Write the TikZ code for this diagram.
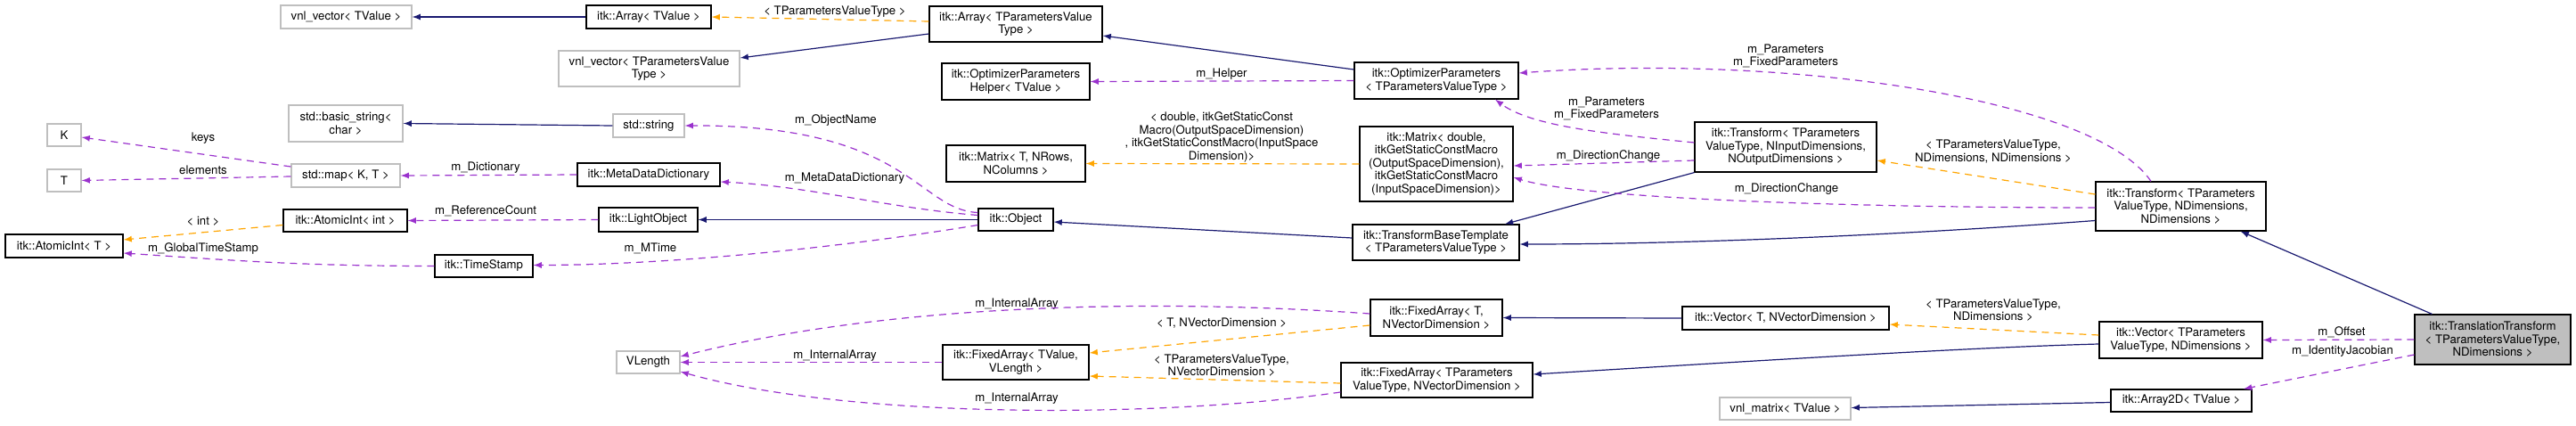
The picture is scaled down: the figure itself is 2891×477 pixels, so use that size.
\documentclass[tikz,border=0pt]{standalone}
\usepackage{fontspec}
\setmainfont{TeX Gyre Heros}
\usepackage{tikz}
\usetikzlibrary{calc,arrows}
\definecolor{navy}{RGB}{25,25,112}
\definecolor{orchid}{RGB}{154,50,205}
\definecolor{amber}{RGB}{255,165,0}
\definecolor{boxgray}{RGB}{191,191,191}
\newcommand{\dox}{\fontsize{6.6}{7.3}\selectfont}
\tikzset{
  cls/.style={draw=black,line width=0.6pt,inner sep=0pt,align=center,font=\dox,minimum height=13pt},
  ext/.style={cls,draw=boxgray},
  cur/.style={cls,fill=boxgray},
  lbl/.style={inner sep=0pt,align=center,font=\dox},
  inh/.style={navy,line width=0.6pt,-latex},
  use/.style={orchid,line width=0.6pt,dash pattern=on 4pt off 3pt,-latex},
  tpl/.style={amber,line width=0.6pt,dash pattern=on 4pt off 3pt,-latex}
}
\begin{document}
\begin{tikzpicture}[x=0.5pt,y=-0.5pt]
                      \useasboundingbox(0,0)rectangle(2891,477);
                      \node[ext,minimum width=73.5pt](vvTV)at(388.5,19){vnl\_vector< TValue >};
                      \node[cls,minimum width=70pt](arrTV)at(728,19){itk::Array< TValue >};
                      \node[ext,minimum width=101.5pt,minimum height=20pt](vvTP)at(728.5,77){vnl\_vector< TParametersValue\\Type >};
                      \node[cls,minimum width=97pt,minimum height=20pt](arrTP)at(1140,27){itk::Array< TParametersValue\\Type >};
                      \node[cls,minimum width=83pt,minimum height=20.5pt](opHelper)at(1140,91.5){itk::OptimizerParameters\\Helper< TValue >};
                      \node[cls,minimum width=92pt,minimum height=20.5pt](optParams)at(1612,90.5){itk::OptimizerParameters\\< TParametersValueType >};
                      \node[ext,minimum width=64pt,minimum height=20.5pt](basicStr)at(388,138.5){std::basic\_string<\\char >};
                      \node[ext,minimum width=40pt](stdStr)at(728,141){std::string};
                      \node[ext,minimum width=19pt,minimum height=12.5pt](K)at(72,151.5){K};
                      \node[ext,minimum width=19pt,minimum height=12.5pt](T)at(72,202.5){T};
                      \node[ext,minimum width=61pt](stdMap)at(388,197){std::map< K, T >};
                      \node[cls,minimum width=80pt](metaDict)at(728,196){itk::MetaDataDictionary};
                      \node[cls,minimum width=78pt,minimum height=20.5pt](matT)at(1140,183.5){itk::Matrix< T, NRows,\\NColumns >};
                      \node[cls,minimum width=86pt,minimum height=42pt](matD)at(1612,184){itk::Matrix< double,\\itkGetStaticConstMacro\\(OutputSpaceDimension),\\itkGetStaticConstMacro\\(InputSpaceDimension)>};
                      \node[cls,minimum width=42pt,minimum height=12.5pt](object)at(1140,246.5){itk::Object};
                      \node[cls,minimum width=93.5pt,minimum height=20pt](tbt)at(1611.5,272){itk::TransformBaseTemplate\\< TParametersValueType >};
                      \node[cls,minimum width=102pt,minimum height=28pt](trIn)at(2004,165){itk::Transform< TParameters\\ValueType, NInputDimensions,\\NOutputDimensions >};
                      \node[cls,minimum width=95.5pt,minimum height=27.5pt](trN)at(2447.5,231.5){itk::Transform< TParameters\\ValueType, NDimensions,\\NDimensions >};
                      \node[cur,minimum width=87.5pt,minimum height=28pt](tt)at(2797.5,381){itk::TranslationTransform\\< TParametersValueType,\\NDimensions >};
                      \node[cls,minimum width=91.5pt,minimum height=20.5pt](vecTP)at(2447.5,381.5){itk::Vector< TParameters\\ValueType, NDimensions >};
                      \node[cls,minimum width=79pt,minimum height=12.5pt](arr2D)at(2448,449.5){itk::Array2D< TValue >};
                      \node[ext,minimum width=73.5pt,minimum height=12.5pt](vnlMat)at(2003.5,458.5){vnl\_matrix< TValue >};
                      \node[cls,minimum width=116pt](vecT)at(2004,357){itk::Vector< T, NVectorDimension >};
                      \node[cls,minimum width=74pt,minimum height=20.5pt](faT)at(1612,356.5){itk::FixedArray< T,\\NVectorDimension >};
                      \node[cls,minimum width=107.5pt,minimum height=19.5pt](faTP)at(1612.5,426.5){itk::FixedArray< TParameters\\ValueType, NVectorDimension >};
                      \node[cls,minimum width=82pt,minimum height=19.5pt](faTV)at(1140,406.5){itk::FixedArray< TValue,\\VLength >};
                      \node[ext,minimum width=35.5pt,minimum height=12.5pt](vlen)at(727.5,406.5){VLength};
                      \node[cls,minimum width=69.5pt,minimum height=12.5pt](aiInt)at(387.5,247.5){itk::AtomicInt< int >};
                      \node[cls,minimum width=55.5pt,minimum height=13.5pt](light)at(727.5,246.5){itk::LightObject};
                      \node[cls,minimum width=66pt](aiT)at(72,276){itk::AtomicInt< T >};
                      \node[cls,minimum width=55pt,minimum height=12.5pt](ts)at(543,298.5){itk::TimeStamp};
                      \node[lbl](lArrTP)at(937,13){< TParametersValueType >};
                      \node[lbl](lHelper)at(1371,83){m\_Helper};
                      \node[lbl](lObjName)at(938,135){m\_ObjectName};
                      \node[lbl](lMDD)at(948,200){m\_MetaDataDictionary};
                      \node[lbl](lMatD)at(1371,154){< double, itkGetStaticConst\\Macro(OutputSpaceDimension)\\, itkGetStaticConstMacro(InputSpace\\Dimension)>};
                      \node[lbl](lKeys)at(228,155){keys};
                      \node[lbl](lElem)at(228,191){elements};
                      \node[lbl](lDict)at(545,188){m\_Dictionary};
                      \node[lbl](lRef)at(545,237){m\_ReferenceCount};
                      \node[lbl](lInt)at(228,248){< int >};
                      \node[lbl](lGTS)at(228,279){m\_GlobalTimeStamp};
                      \node[lbl](lMTime)at(730,279){m\_MTime};
                      \node[lbl](lIA1)at(1141,341){m\_InternalArray};
                      \node[lbl](lTNVD)at(1371,363){< T, NVectorDimension >};
                      \node[lbl](lIA2)at(937,399){m\_InternalArray};
                      \node[lbl](lTPNVD)at(1371,410){< TParametersValueType,\\NVectorDimension >};
                      \node[lbl](lIA3)at(1141,447){m\_InternalArray};
                      \node[lbl](lPar1)at(2004,63){m\_Parameters\\m\_FixedParameters};
                      \node[lbl](lPar2)at(1803,122){m\_Parameters\\m\_FixedParameters};
                      \node[lbl](lDir1)at(1805,175){m\_DirectionChange};
                      \node[lbl](lDir2)at(2005,212){m\_DirectionChange};
                      \node[lbl](lTrN)at(2237,170){< TParametersValueType,\\NDimensions, NDimensions >};
                      \node[lbl](lVecTP)at(2237,348){< TParametersValueType,\\NDimensions >};
                      \node[lbl](lOffset)at(2628,373){m\_Offset};
                      \node[lbl](lIdJac)at(2629,394){m\_IdentityJacobian};
                      \draw[inh](arrTV.west)--(vvTV.east);
                      \draw[inh]($(arrTP.west)+(0,11)$)--($(vvTP.east)+(0,-12)$);
                      \draw[inh]($(optParams.west)+(0,-12.5)$)--($(arrTP.east)+(0,13)$);
                      \draw[inh](stdStr.west)--(basicStr.east);
                      \draw[inh](object.west)--(light.east);
                      \draw[inh]($(tbt.west)+(0,-5)$)--($(object.east)+(0,2.5)$);
                      \draw[inh](trIn.south west)--($(tbt.north)+(77.5,0)$);
                      \draw[inh]($(trN.west)+(0,16)$)..controls+(-200,15)and+(200,0)..($(tbt.east)+(0,2)$);
                      \draw[inh]($(tt.north west)+(20,0)$)--($(trN.south east)+(-29,0)$);
                      \draw[inh]($(vecTP.west)+(0,4.5)$)..controls+(-150,4)and+(250,-15)..($(faTP.east)+(0,-6.5)$);
                      \draw[inh](vecT.west)--(faT.east);
                      \draw[inh]($(arr2D.west)+(0,2)$)--($(vnlMat.east)+(0,-1)$);
                      \draw[use](optParams.west)--(opHelper.east);
                      \draw[use]($(stdMap.west)+(0,-10)$)--($(K.east)+(0,2.5)$);
                      \draw[use]($(stdMap.west)+(0,1)$)--(T.east);
                      \draw[use](metaDict.west)--(stdMap.east);
                      \draw[use]($(object.west)+(0,-8)$)..controls+(-68,-3)and+(252,-1)..(stdStr.east);
                      \draw[use]($(object.west)+(0,-5)$)..controls+(-100,-8)and+(100,5)..($(metaDict.east)+(0,8)$);
                      \draw[use]($(object.west)+(0,6)$)..controls+(-150,25)and+(150,0)..($(ts.east)+(0,-1)$);
                      \draw[use](light.west)--(aiInt.east);
                      \draw[use](ts.west)..controls+(-150,0)and+(120,8)..($(aiT.east)+(0,8)$);
                      \draw[use]($(trIn.west)+(0,-5)$)..controls+(-100,-10)and+(40,30)..($(optParams.south)+(66,0)$);
                      \draw[use]($(trIn.west)+(0,15)$)--($(matD.east)+(0,2)$);
                      \draw[use]($(trN.west)+(0,1.5)$)..controls+(-252,0)and+(80,25)..($(matD.east)+(0,15)$);
                      \draw[use]($(trN.north)+(-33.5,0)$)..controls+(-64,-94)and+(296,-22)..($(optParams.east)+(0,-8.5)$);
                      \draw[use](tt.west)--(vecTP.east);
                      \draw[use]($(tt.west)+(0,17)$)--($(arr2D.north)+(70,0)$);
                      \draw[use]($(faT.west)+(0,-4.5)$)..controls+(-238,-17)and+(237,-60)..($(vlen.east)+(0,-6.5)$);
                      \draw[use](faTV.west)--(vlen.east);
                      \draw[use]($(faTP.west)+(0,13.5)$)..controls+(-205,30)and+(187,53)..($(vlen.east)+(0,10.5)$);
                      \draw[tpl]($(arrTP.west)+(0,-3)$)--(arrTV.east);
                      \draw[tpl](matD.west)--(matT.east);
                      \draw[tpl]($(aiInt.west)+(0,5)$)--($(aiT.east)+(0,-7)$);
                      \draw[tpl]($(trN.west)+(0,-13.5)$)--($(trIn.east)+(0,15)$);
                      \draw[tpl]($(vecTP.west)+(0,-5.5)$)--($(vecT.east)+(0,7)$);
                      \draw[tpl]($(faT.west)+(0,8.5)$)--($(faTV.east)+(0,-10.5)$);
                      \draw[tpl]($(faTP.west)+(0,3.5)$)--($(faTV.east)+(0,15.5)$);
                  \end{tikzpicture}
\end{document}
